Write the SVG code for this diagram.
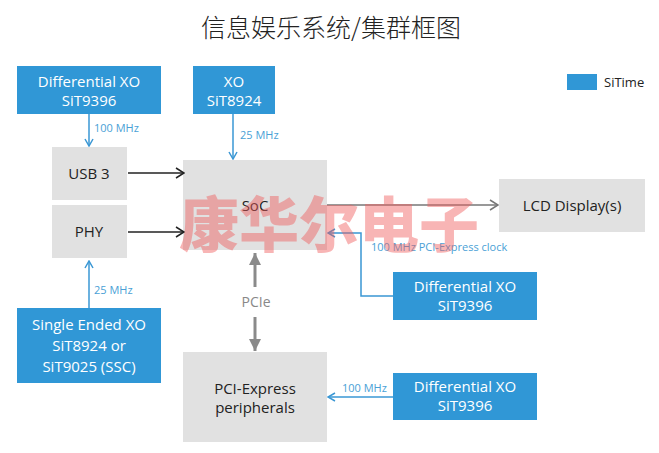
<svg xmlns="http://www.w3.org/2000/svg" width="659" height="453" viewBox="0 0 659 453">
<style>
.blue{fill:#3097D6}
.gray{fill:#E1E1E1}
.wt{font-family:"Open Sans","Liberation Sans",sans-serif;font-size:15px;fill:#fff;text-anchor:middle}
.dt{font-family:"Open Sans","Liberation Sans",sans-serif;font-size:15px;fill:#222;text-anchor:middle}
.lbl{font-family:"Open Sans","Liberation Sans",sans-serif;font-size:11px;fill:#4A9FD6}
.bl{stroke:#3A97D4;stroke-width:1.5;fill:none}
.bk{stroke:#222;stroke-width:1.5;fill:none}
.gr{stroke:#8A8A8A;stroke-width:3;fill:none}
.gt{stroke:#777;stroke-width:1.5;fill:none}
</style>
<defs>
<marker id="ab" viewBox="0 0 10 10" refX="9" refY="5" markerWidth="10" markerHeight="10" markerUnits="userSpaceOnUse" orient="auto"><path d="M2,1 L9,5 L2,9" fill="none" stroke="#3A97D4" stroke-width="1.5"/></marker>
<marker id="ak" viewBox="0 0 12 12" refX="11" refY="6" markerWidth="12" markerHeight="12" markerUnits="userSpaceOnUse" orient="auto"><path d="M3,1 L11,6 L3,11" fill="none" stroke="#222" stroke-width="1.5"/></marker>
<marker id="at" viewBox="0 0 12 12" refX="11" refY="6" markerWidth="12" markerHeight="12" markerUnits="userSpaceOnUse" orient="auto"><path d="M3,1 L11,6 L3,11" fill="none" stroke="#777" stroke-width="1.5"/></marker>
<marker id="ag" viewBox="0 0 10 10" refX="10" refY="5" markerWidth="4" markerHeight="4" orient="auto"><path d="M0,0 L10,5 L0,10 Z" fill="#8A8A8A"/></marker>
</defs>
<rect width="659" height="453" fill="#fff"/>
<text x="331" y="37" font-family="'Noto Sans CJK SC',sans-serif" font-weight="300" font-size="25" fill="#222" text-anchor="middle">信息娱乐系统/集群框图</text>
<g id="legend"><rect class="blue" x="567" y="74" width="30" height="16"/><text x="604" y="87" font-family="'Open Sans','Liberation Sans',sans-serif" font-size="13" fill="#222">SiTime</text></g>
<g id="diffxo1"><rect class="blue" x="17" y="66" width="144" height="48"/><text class="wt" x="89" y="87">Differential XO</text><text class="wt" x="89" y="106">SiT9396</text></g>
<g id="xo"><rect class="blue" x="193" y="66" width="82" height="48"/><text class="wt" x="234" y="87">XO</text><text class="wt" x="234" y="106">SiT8924</text></g>
<g id="usb3"><rect class="gray" x="52" y="147" width="75" height="53"/><text class="dt" x="89" y="179">USB 3</text></g>
<g id="phy"><rect class="gray" x="52" y="205" width="75" height="53"/><text class="dt" x="89" y="237">PHY</text></g>
<g id="soc"><rect class="gray" x="183" y="160" width="144" height="90"/><text class="dt" x="255" y="211">SoC</text></g>
<g id="lcd"><rect class="gray" x="499" y="179" width="146" height="53"/><text class="dt" x="572" y="211">LCD Display(s)</text></g>
<g id="diffxo2"><rect class="blue" x="393" y="272" width="144" height="48"/><text class="wt" x="465" y="292">Differential XO</text><text class="wt" x="465" y="311">SiT9396</text></g>
<g id="sexo"><rect class="blue" x="17" y="308" width="144" height="75"/><text class="wt" x="89" y="330">Single Ended XO</text><text class="wt" x="89" y="351">SiT8924 or</text><text class="wt" x="89" y="372">SiT9025 (SSC)</text></g>
<g id="pcieperiph"><rect class="gray" x="183" y="352" width="144" height="90"/><text class="dt" x="255" y="394">PCI-Express</text><text class="dt" x="255" y="413">peripherals</text></g>
<g id="diffxo3"><rect class="blue" x="393" y="373" width="144" height="47"/><text class="wt" x="465" y="392">Differential XO</text><text class="wt" x="465" y="411">SiT9396</text></g>
<g id="connectors">
<line class="bl" x1="89" y1="114" x2="89" y2="146" marker-end="url(#ab)"/>
<text class="lbl" x="94" y="132">100 MHz</text>
<line class="bl" x1="233" y1="114" x2="233" y2="159" marker-end="url(#ab)"/>
<text class="lbl" x="240" y="139">25 MHz</text>
<line class="bk" x1="128" y1="173" x2="184" y2="173" marker-end="url(#ak)"/>
<line class="bk" x1="128" y1="232" x2="184" y2="232" marker-end="url(#ak)"/>
<line class="gt" x1="327" y1="205" x2="498" y2="205" marker-end="url(#at)"/>
<polyline class="bl" points="393,296 361,296 361,233 328,233" marker-end="url(#ab)"/>
<text class="lbl" x="371" y="251">100 MHz PCI-Express clock</text>
<line class="bl" x1="89" y1="308" x2="89" y2="261" marker-end="url(#ab)"/>
<text class="lbl" x="94" y="294">25 MHz</text>
<line class="gr" x1="255" y1="287" x2="255" y2="253" marker-end="url(#ag)"/>
<text x="256" y="307" font-family="'Open Sans','Liberation Sans',sans-serif" font-size="14" fill="#888" text-anchor="middle">PCIe</text>
<line class="gr" x1="255" y1="317" x2="255" y2="351" marker-end="url(#ag)"/>
<line class="bl" x1="393" y1="397" x2="328" y2="397" marker-end="url(#ab)"/>
<text class="lbl" x="342" y="392">100 MHz</text>
</g>
<text x="329" y="247" font-family="'Noto Sans CJK SC',sans-serif" font-weight="900" font-size="60" fill="#F05A5A" fill-opacity="0.45" text-anchor="middle">康华尔电子</text>
</svg>
